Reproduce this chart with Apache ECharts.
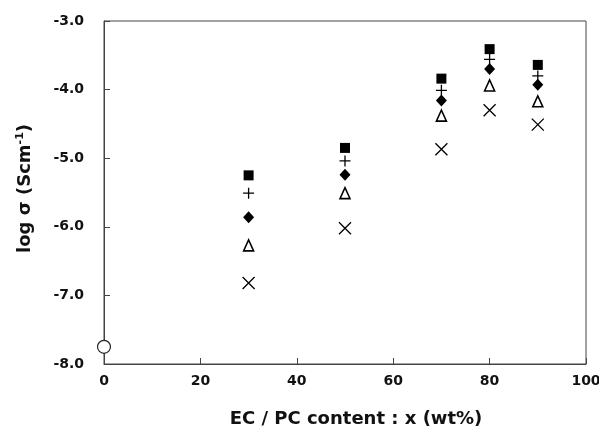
<!DOCTYPE html>
<html>
<head>
<meta charset="utf-8">
<script src="https://cdn.jsdelivr.net/npm/echarts@6/dist/echarts.min.js"></script>
<style>
html,body{margin:0;padding:0;background:#fff}
#main{width:599px;height:429px}
</style>
</head>
<body>
<div id="main"></div>
<script>
// EC/PC content (wt%)
var content = [30, 50, 70, 80, 90];
// log sigma for each marker series
var squareVals   = [-5.25, -4.85, -3.84, -3.41, -3.64];
var plusVals     = [-5.51, -5.04, -4.01, -3.56, -3.80];
var diamondVals  = [-5.86, -5.24, -4.16, -3.70, -3.93];
var triangleVals = [-6.27, -5.51, -4.38, -3.94, -4.17];
var crossVals    = [-6.82, -6.02, -4.87, -4.30, -4.51];
var circlePoint  = [[0, -7.75]];

function pairs(ys){
  return content.map(function(x,i){ return [x, ys[i]] })
}

var chart = echarts.init(document.getElementById('main'))
var font = 'DejaVu Sans, sans-serif'

var option = {
  animation: false,
  grid: {
    left: 104, right: 13, top: 21, bottom: 65,
    outerBoundsMode: 'none',
    show: true, borderColor: '#444', borderWidth: 1
  },
  xAxis: {
    type: 'value',
    min: 0, max: 100, interval: 20,
    name: 'EC / PC content : x (wt%)',
    nameLocation: 'middle',
    nameGap: 46,
    nameTextStyle: {fontFamily: font, fontWeight: 'bold', fontSize: 18, color: '#111', padding: [0, 0, 0, 22]},
    axisLine: {show: true, lineStyle: {color: '#444', width: 1}},
    axisTick: {show: true, inside: true, length: 6, lineStyle: {color: '#444'}},
    axisLabel: {fontFamily: font, fontWeight: 'bold', fontSize: 14, color: '#111', margin: 10},
    splitLine: {show: false}
  },
  yAxis: {
    type: 'value',
    min: -8, max: -3, interval: 1,
    name: '{a|log σ (Scm}{s|-1}{a|)}',
    nameLocation: 'middle',
    nameGap: 68,
    nameRotate: 90,
    nameTextStyle: {
      padding: [0, 0, 0, 8],
      rich: {
        a: {fontFamily: font, fontWeight: 'bold', fontSize: 18, color: '#111'},
        s: {fontFamily: font, fontWeight: 'bold', fontSize: 11, color: '#111', verticalAlign: 'top', padding: [0, 0, 10, 0]}
      }
    },
    axisLine: {show: true, lineStyle: {color: '#444', width: 1}},
    axisTick: {show: true, inside: true, length: 6, lineStyle: {color: '#444'}},
    axisLabel: {
      fontFamily: font, fontWeight: 'bold', fontSize: 14, color: '#111', margin: 20,
      formatter: function(v){ return v.toFixed(1) }
    },
    splitLine: {show: false}
  },
  series: [
    {
      name: 'square', type: 'scatter', data: pairs(squareVals),
      symbol: 'rect', symbolSize: 10,
      itemStyle: {color: '#000', opacity: 1}
    },
    {
      name: 'plus', type: 'scatter', data: pairs(plusVals),
      symbol: 'path://M0,5L10,5M5,0L5,10', symbolSize: 11,
      itemStyle: {color: 'none', borderColor: '#000', borderWidth: 1.3, opacity: 1}
    },
    {
      name: 'diamond', type: 'scatter', data: pairs(diamondVals),
      symbol: 'diamond', symbolSize: [11, 12],
      itemStyle: {color: '#000', opacity: 1}
    },
    {
      name: 'triangle', type: 'scatter', data: pairs(triangleVals),
      symbol: 'triangle', symbolSize: [10, 11],
      itemStyle: {color: '#fff', borderColor: '#000', borderWidth: 1.6, opacity: 1}
    },
    {
      name: 'cross', type: 'scatter', data: pairs(crossVals),
      symbol: 'path://M0,0L10,10M10,0L0,10', symbolSize: 12,
      itemStyle: {color: 'none', borderColor: '#000', borderWidth: 1.3, opacity: 1}
    },
    {
      name: 'circle', type: 'scatter', data: circlePoint,
      symbol: 'circle', symbolSize: 13,
      itemStyle: {color: '#fff', borderColor: '#222', borderWidth: 1.2, opacity: 1}
    }
  ]
}
chart.setOption(option)
</script>
</body>
</html>
